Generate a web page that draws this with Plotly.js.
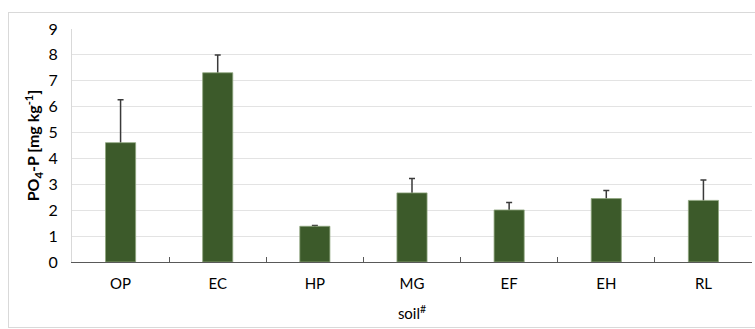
<!DOCTYPE html>
<html>
<head>
<meta charset="utf-8">
<script src="https://cdn.plot.ly/plotly-3.0.1.min.js"></script>
<style>
  html, body { margin: 0; padding: 0; background: #fff; }
  #wrap { position: relative; width: 755px; height: 329px; overflow: hidden; }
  #frame { position: absolute; left: 8px; top: 12px; width: 800px; height: 316px; border: 1px solid #d9d9d9; box-sizing: border-box; }
  #chart { position: absolute; left: 0; top: 0; width: 755px; height: 329px; }
</style>
</head>
<body>
<div id="wrap">
  <div id="frame"></div>
  <div id="chart"></div>
</div>
<script>
const soils = ["OP", "EC", "HP", "MG", "EF", "EH", "RL"];
const po4p = [4.61, 7.31, 1.38, 2.67, 2.01, 2.45, 2.38];
const sdPlus = [1.66, 0.69, 0.03, 0.56, 0.29, 0.31, 0.79];
const yTicks = [0, 1, 2, 3, 4, 5, 6, 7, 8, 9];

const fontFam = "Lato, 'Liberation Sans', sans-serif";
const barStyle = { color: "#3c5a2a", line: { color: "#8fa67f", width: 0.8 } };

// error bars (drawn first, the stem inside the bar is then covered by the bar itself)
const errTrace = {
  type: "bar",
  x: soils,
  y: po4p,
  marker: { color: "rgba(0,0,0,0)", line: { width: 0 } },
  error_y: { type: "data", symmetric: false, array: sdPlus, arrayminus: po4p,
             color: "#3a3a3a", thickness: 1.5, width: 3 },
  hoverinfo: "none"
};

const barTrace = {
  type: "bar",
  x: soils,
  y: po4p,
  marker: barStyle,
  hoverinfo: "none"
};

const layout = {
  width: 755, height: 329,
  margin: { l: 72, r: 3, t: 29, b: 67 },
  paper_bgcolor: "rgba(0,0,0,0)",
  plot_bgcolor: "rgba(0,0,0,0)",
  barmode: "overlay",
  bargap: 0.69,
  showlegend: false,
  font: { family: fontFam, size: 14, color: "#000" },
  xaxis: {
    type: "category",
    tickson: "boundaries",
    ticks: "inside", ticklen: 5, tickwidth: 1, tickcolor: "#595959",
    showline: true, linecolor: "#595959", linewidth: 1,
    showgrid: false,
    ticklabelstandoff: 8,
    tickfont: { family: fontFam, size: 15, color: "#000" },
    title: { text: "soil<sup>#</sup>", font: { family: fontFam, size: 15, color: "#000" }, standoff: 17 },
    fixedrange: true
  },
  yaxis: {
    range: [0, 9],
    tickvals: yTicks,
    ticks: "",
    showline: true, linecolor: "#d9d9d9", linewidth: 1,
    showgrid: true, gridcolor: "#e3e3e3", gridwidth: 1,
    zeroline: false,
    ticklabelstandoff: 10,
    tickfont: { family: fontFam, size: 16, color: "#000" },
    title: { text: "<b>PO<sub>4</sub>-P [mg kg<sup>-1</sup>]</b>", font: { family: fontFam, size: 16, color: "#000" }, standoff: 4 },
    fixedrange: true
  }
};

Plotly.newPlot("chart", [errTrace, barTrace], layout, { displayModeBar: false, staticPlot: true });
</script>
</body>
</html>
